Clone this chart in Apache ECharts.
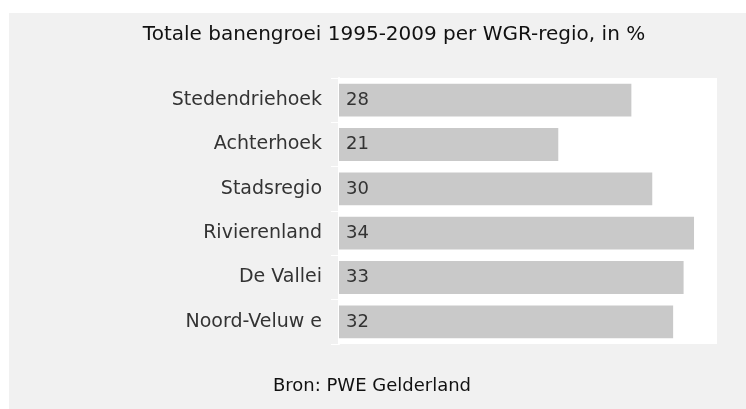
<!DOCTYPE html>
<html>
<head>
    <meta charset="utf-8">
    <title>Totale banengroei 1995-2009</title>
    <script src="https://cdn.jsdelivr.net/npm/echarts@6.0.0/dist/echarts.min.js"></script>
    <style>
        html, body { margin: 0; padding: 0; background: #fff; }
        #chart { width: 746px; height: 409px; }
    </style>
</head>
<body>
    <div id="chart"></div>
    <script>
        // regio's en banengroei in %
        var regions = ['Stedendriehoek', 'Achterhoek', 'Stadsregio', 'Rivierenland', 'De Vallei', 'Noord-Veluw e'];
        var growth = [28, 21, 30, 34, 33, 32];
        var titleText = 'Totale banengroei 1995-2009 per WGR-regio, in %';
        var sourceText = 'Bron: PWE Gelderland';

        var font = '"DejaVu Sans", sans-serif';
        var chart = echarts.init(document.getElementById('chart'));

        var option = {
            animation: false,
            backgroundColor: '#fff',
            graphic: [
                {
                    type: 'rect',
                    z: -10,
                    shape: { x: 9, y: 13, width: 737, height: 396 },
                    style: { fill: '#f1f1f1' }
                },
                {
                    type: 'text',
                    x: 394,
                    y: 35,
                    style: {
                        text: titleText,
                        font: '20px ' + font,
                        fill: '#111',
                        textAlign: 'center',
                        textVerticalAlign: 'middle'
                    }
                },
                {
                    type: 'text',
                    x: 372,
                    y: 386,
                    style: {
                        text: sourceText,
                        font: '18px ' + font,
                        fill: '#111',
                        textAlign: 'center',
                        textVerticalAlign: 'middle'
                    }
                }
            ],
            grid: {
                left: 339,
                right: 29,
                top: 78,
                bottom: 65,
                show: true,
                backgroundColor: '#fff',
                borderWidth: 0,
                containLabel: false
            },
            xAxis: {
                type: 'value',
                min: 0,
                max: 36.2,
                show: false
            },
            yAxis: {
                type: 'category',
                inverse: true,
                data: regions,
                axisLine: { show: true, lineStyle: { color: '#fff', width: 2 } },
                axisTick: { show: true, length: 8, lineStyle: { color: '#fff', width: 1 } },
                axisLabel: {
                    margin: 17,
                    fontFamily: font,
                    fontSize: 19,
                    color: '#333'
                },
                splitLine: { show: false }
            },
            series: [
                {
                    type: 'bar',
                    data: growth,
                    barCategoryGap: '26%',
                    itemStyle: { color: '#c9c9c9' },
                    label: {
                        show: true,
                        position: 'insideLeft',
                        distance: 7,
                        fontFamily: font,
                        fontSize: 18,
                        color: '#333'
                    }
                }
            ]
        };
        chart.setOption(option);
    </script>
</body>
</html>
